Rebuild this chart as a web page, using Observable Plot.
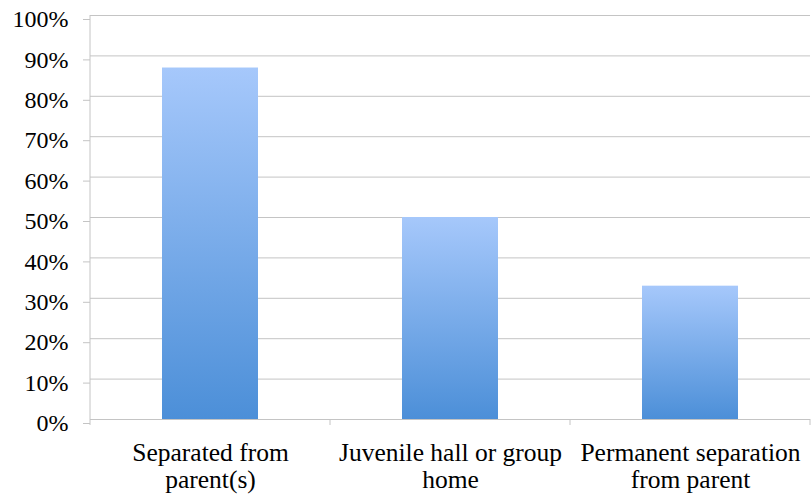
<!DOCTYPE html>
<html><head><meta charset="utf-8">
<script src="https://cdn.jsdelivr.net/npm/d3@7"></script>
<script src="https://cdn.jsdelivr.net/npm/@observablehq/plot@0.6"></script>
<style>
body{margin:0;background:#fff;overflow:hidden}
</style>
</head><body><div id="chart"></div>
<script>
const categories = ["Separated from parent(s)", "Juvenile hall or group home", "Permanent separation from parent"];
const values = [0.87, 0.50, 0.33];
const tickLabels = ["Separated from\nparent(s)", "Juvenile hall or group\nhome", "Permanent separation\nfrom parent"];
const yTicks = [0, 0.1, 0.2, 0.3, 0.4, 0.5, 0.6, 0.7, 0.8, 0.9, 1.0];

const gridColor = "#c4c4c4";
const serif = "'Liberation Serif', 'Times New Roman', serif";
const data = categories.map((c, i) => ({category: c, value: values[i]}));

function gradientDefs() {
  const defs = d3.create("svg:defs");
  const g = defs.append("linearGradient").attr("id", "barGrad")
    .attr("x1", 0).attr("y1", 0).attr("x2", 0).attr("y2", 1);
  g.append("stop").attr("offset", "0%").attr("stop-color", "#a6c8fb");
  g.append("stop").attr("offset", "100%").attr("stop-color", "#4c8fd8");
  return defs.node();
}

function yAxisLine(index, scales, values, dimensions) {
  const x0 = dimensions.marginLeft;
  return d3.create("svg:line").attr("stroke", gridColor)
    .attr("x1", x0).attr("x2", x0)
    .attr("y1", scales.y(1)).attr("y2", scales.y(0)).node();
}

function boundaryTicks(index, scales) {
  const x = scales.x, y = scales.y;
  const bw = x.bandwidth ? x.bandwidth() : 0;
  const xs0 = categories.map(c => x(c));
  const step = xs0[1] - xs0[0];
  const gap = (step - bw) / 2;
  const xs = xs0.map(v => v - gap).concat([xs0[xs0.length - 1] + bw + gap]);
  const y0 = y(0);
  const g = d3.create("svg:g").attr("stroke", gridColor);
  g.selectAll("line").data(xs).join("line")
    .attr("x1", d => d).attr("x2", d => d)
    .attr("y1", y0).attr("y2", y0 + 6);
  return g.node();
}

const chart = Plot.plot({
  width: 811,
  height: 497,
  marginLeft: 90,
  marginRight: 1,
  marginTop: 15,
  marginBottom: 78,
  style: `font-family: ${serif}; font-size: 24px; color: #000; background: #fff;`,
  x: {domain: categories, paddingInner: 0.6, paddingOuter: 0.3, label: null},
  y: {domain: [0, 1], label: null},
  marks: [
    gradientDefs,
    Plot.gridY(yTicks, {stroke: gridColor, strokeOpacity: 1}),
    Plot.barY(data, {x: "category", y: "value", fill: "url(#barGrad)"}),
    Plot.ruleY([0], {stroke: gridColor}),
    yAxisLine,
    boundaryTicks,
    Plot.axisY(yTicks, {tickSize: 7, tickPadding: 15, stroke: gridColor, strokeOpacity: 1, tickFormat: d3.format(".0%"), dy: 4, fontSize: 24, fill: "#000", label: null}),
    Plot.axisX({tickSize: 0, tickPadding: 23, tickFormat: d => tickLabels[categories.indexOf(d)], fontSize: 25.5, lineHeight: 1.04, fill: "#000", label: null})
  ]
});
document.getElementById("chart").appendChild(chart);
</script>
</body></html>
